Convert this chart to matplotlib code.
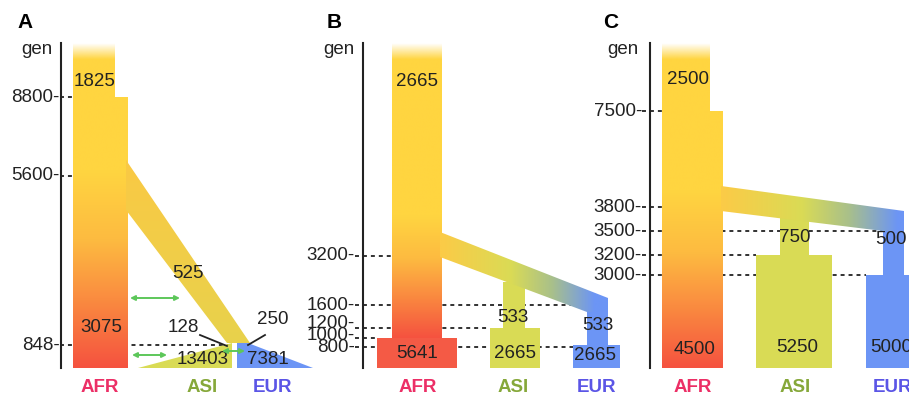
# Three demographic models (A, B, C) for the AFR / ASI / EUR split,
# drawn as a schematic in pixel space.

import matplotlib.pyplot as plt
import numpy as np
from matplotlib.colors import LinearSegmentedColormap
from matplotlib.patches import Polygon

plt.rcParams["font.family"] = ["Liberation Sans", "DejaVu Sans"]

# ---------------------------------------------------------------------------
# Data
# ---------------------------------------------------------------------------
PANELS = ["A", "B", "C"]
POPS = ["AFR", "ASI", "EUR"]

# generation boundaries shown on the time axis of each model
GEN_A = [8800, 5600, 848]
GEN_B = [3200, 1600, 1200, 1000, 800]
GEN_C = [7500, 3800, 3500, 3200, 3000]

# effective population sizes written on the branches
NE_A = [1825, 3075, 525, 128, 250, 13403, 7381]
NE_B = [2665, 5641, 533, 533, 2665, 2665]
NE_C = [2500, 4500, 750, 500, 5250, 5000]

# ---------------------------------------------------------------------------
# Style / layout (pixels, y grows downwards)
# ---------------------------------------------------------------------------
W, H = 909, 401
TOP, BOTTOM = 43, 368
AXIS_X = [61, 363, 650]
LABEL_X = [60, 355, 642]
LETTER_X = [17, 327, 603]
GEN_X = [52, 355, 638]
TICK_Y = [[97, 176, 345], [256, 305, 328, 338, 347], [111, 207, 231, 255, 275]]
LABEL_DY = [[0, 0, 0], [0, 0, -5, -2, 0], [0, 0, 0, 0, 0]]
DOT_END = [[73, 73, 232], [392, 587, 490, 377, 573], [662, 662, 883, 756, 866]]
POP_X = [[100, 202, 272], [418, 513, 597], [693, 795, 893]]

AFR_CMAP = LinearSegmentedColormap.from_list(
    "afr", [(0, "#FFD540"), (0.35, "#FDBB41"), (0.65, "#FA8C40"), (1, "#F5523F")])
BAND_CMAP = LinearSegmentedColormap.from_list(
    "band", [(0, "#FBCB47"), (0.45, "#DADB55"), (0.72, "#A9C08A"), (1, "#6C95F5")])
OOA_CMAP = LinearSegmentedColormap.from_list("ooa", ["#FAC944", "#E8D24C"])
ASI_COL = "#D9DB55"
EUR_COL = "#6C95F5"
AFR_BASE = "#F45A45"
POP_COLS = ["#EC2F66", "#86A83A", "#5B55E6"]
ARROW_COL = "#5DC75A"
INK = "#222222"
FS = 13.5


def fill_gradient(ax, verts, cmap, t_func, fade_top=0, z=2):
    """Fill a polygon with a colormap evaluated on t_func(X, Y)."""
    verts = np.asarray(verts, float)
    x0, y0 = verts.min(axis=0)
    x1, y1 = verts.max(axis=0)
    xs = np.linspace(x0, x1, int(x1 - x0) * 2 + 2)
    ys = np.linspace(y0, y1, int(y1 - y0) * 2 + 2)
    X, Y = np.meshgrid(xs, ys)
    rgba = cmap(np.clip(t_func(X, Y), 0, 1))
    if fade_top:
        rgba[..., 3] = np.clip((Y - y0) / fade_top, 0, 1)
    poly = Polygon(verts, closed=True, fc="none", ec="none")
    ax.add_patch(poly)
    im = ax.imshow(rgba, extent=(x0, x1, y1, y0), origin="upper",
                   interpolation="bilinear", zorder=z)
    im.set_clip_path(poly)


def solid(ax, verts, color, z=2):
    ax.add_patch(Polygon(verts, closed=True, fc=color, ec="none", zorder=z))


def rect(x0, y0, x1, y1):
    return [(x0, y0), (x1, y0), (x1, y1), (x0, y1)]


def vert_t(y_start, y_end):
    return lambda X, Y: (Y - y_start) / (y_end - y_start)


def horiz_t(x_start, x_end):
    return lambda X, Y: (X - x_start) / (x_end - x_start)


def num(ax, x, y, value):
    ax.text(x, y, str(value), fontsize=FS, color=INK, ha="center", va="center", zorder=5)


def arrow(ax, x0, x1, y):
    ax.annotate("", xy=(x1, y), xytext=(x0, y), zorder=6,
                arrowprops=dict(arrowstyle="<|-|>", color=ARROW_COL, lw=1.4,
                                mutation_scale=7, shrinkA=0, shrinkB=0))


fig = plt.figure(figsize=(W / 100, H / 100), dpi=100)
ax = fig.add_axes([0, 0, 1, 1])
ax.set_xlim(0, W)
ax.set_ylim(H, 0)
ax.axis("off")

gens = [GEN_A, GEN_B, GEN_C]

# axes, tick labels, dotted guide lines, population names
for p in range(3):
    ax.plot([AXIS_X[p], AXIS_X[p]], [TOP, BOTTOM], color=INK, lw=1.5, zorder=4)
    ax.text(LETTER_X[p], 22, PANELS[p], fontsize=15, fontweight="bold",
            color="black", ha="left", va="center")
    ax.text(GEN_X[p], 50, "gen", fontsize=FS, color=INK, ha="right", va="center")
    for g, y, dy, xe in zip(gens[p], TICK_Y[p], LABEL_DY[p], DOT_END[p]):
        ax.text(LABEL_X[p], y + dy, f"{g}-", fontsize=FS, color=INK,
                ha="right", va="center")
        ax.plot([LABEL_X[p], xe], [y, y], color=INK, lw=1.3,
                linestyle=(0, (2.2, 2.2)), zorder=1)
    for name, x, c in zip(POPS, POP_X[p], POP_COLS):
        ax.text(x, 388, name, fontsize=FS, fontweight="bold", color=c,
                ha="center", va="center")

# ---- panel A -------------------------------------------------------------
ya = dict(zip(GEN_A, TICK_Y[0]))
fill_gradient(ax, [(73, TOP), (115, TOP), (115, ya[8800]), (128, ya[8800]),
                   (128, BOTTOM), (73, BOTTOM)],
              AFR_CMAP, vert_t(170, BOTTOM), fade_top=16)
fill_gradient(ax, [(126, 160), (250, ya[848] - 2), (227, ya[848] - 2), (126, 210)],
              OOA_CMAP, vert_t(160, 343))
solid(ax, [(138, BOTTOM), (232, ya[848] - 2), (232, BOTTOM)], ASI_COL)
solid(ax, [(237, ya[848] - 2), (248, ya[848] - 2), (313, BOTTOM), (237, BOTTOM)], EUR_COL)
num(ax, 95, 82, NE_A[0])
num(ax, 101, 327, NE_A[1])
num(ax, 188, 273, NE_A[2])
num(ax, 183, 328, NE_A[3])
num(ax, 273, 320, NE_A[4])
num(ax, 203, 359, NE_A[5])
num(ax, 268, 359, NE_A[6])
ax.plot([200, 227], [335, 346], color=INK, lw=1.3, zorder=5)
ax.plot([265, 248], [335, 345], color=INK, lw=1.3, zorder=5)
arrow(ax, 130, 180, 298)
arrow(ax, 132, 167, 355)
arrow(ax, 222, 245, 351)

# ---- panel B -------------------------------------------------------------
yb = dict(zip(GEN_B, TICK_Y[1]))
fill_gradient(ax, rect(392, TOP, 442, yb[1000]), AFR_CMAP,
              vert_t(215, yb[1000]), fade_top=16)
solid(ax, rect(377, yb[1000], 457, BOTTOM), AFR_BASE)
solid(ax, rect(503, 282, 525, yb[1200]), ASI_COL)
solid(ax, rect(490, yb[1200], 540, BOTTOM), ASI_COL)
solid(ax, rect(587, 305, 608, yb[800] - 2), EUR_COL)
solid(ax, rect(573, yb[800] - 2, 620, BOTTOM), EUR_COL)
fill_gradient(ax, [(440, 232), (608, 298), (608, 312), (587, 312), (440, 257)],
              BAND_CMAP, horiz_t(442, 595), z=3)
num(ax, 417, 82, NE_B[0])
num(ax, 417, 353, NE_B[1])
num(ax, 513, 318, NE_B[2])
num(ax, 598, 325, NE_B[3])
num(ax, 515, 353, NE_B[4])
num(ax, 595, 355, NE_B[5])

# ---- panel C -------------------------------------------------------------
yc = dict(zip(GEN_C, TICK_Y[2]))
fill_gradient(ax, [(662, TOP), (710, TOP), (710, yc[7500]), (723, yc[7500]),
                   (723, BOTTOM), (662, BOTTOM)],
              AFR_CMAP, vert_t(190, BOTTOM), fade_top=16)
solid(ax, rect(780, 215, 809, yc[3200]), ASI_COL)
solid(ax, rect(756, yc[3200], 832, BOTTOM), ASI_COL)
solid(ax, rect(883, 220, 904, yc[3000]), EUR_COL)
solid(ax, rect(866, yc[3000], 915, BOTTOM), EUR_COL)
fill_gradient(ax, [(721, 186), (904, 211), (904, yc[3500]), (883, yc[3500]), (721, 211)],
              BAND_CMAP, horiz_t(723, 898), z=3)
num(ax, 688, 79, NE_C[0])
num(ax, 695, 350, NE_C[1])
num(ax, 795, 238, NE_C[2])
num(ax, 891, 240, NE_C[3])
num(ax, 797, 348, NE_C[4])
num(ax, 891, 348, NE_C[5])

ax.set_xlim(0, W)
ax.set_ylim(H, 0)
fig.savefig("out.png", dpi=100, facecolor="white")
